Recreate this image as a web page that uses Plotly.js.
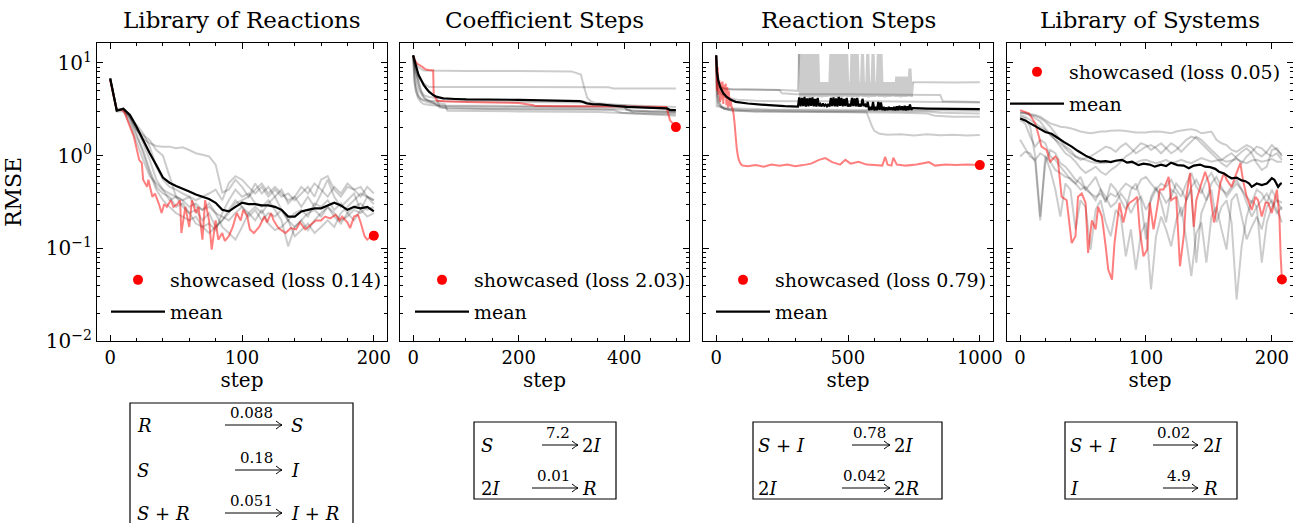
<!DOCTYPE html>
<html><head><meta charset="utf-8">
<script src="https://cdn.plot.ly/plotly-3.0.1.min.js"></script>
<style>html,body{margin:0;padding:0;background:#fff}#chart{width:1293px;height:523px}</style>
</head><body><div id="chart"></div><script>
// ---------------- DATA ----------------
const panelTitles = ['Library of Reactions', 'Coefficient Steps', 'Reaction Steps', 'Library of Systems'];
const yTickVals = [0.01, 0.1, 1, 10];
const yTickText = ['10<sup>\u22122</sup>', '10<sup>\u22121</sup>', '10<sup>0</sup>', '10<sup>1</sup>'];

// Panel 1: Library of Reactions
const p1Steps = [0,5,10,15,20,25,30,35,40,45,50,55,60,65,70,75,80,85,90,95,100,105,110,115,120,125,130,135,140,145,150,155,160,165,170,175,180,185,190,195,200];
const p1Run1 = [6.8,3.1,3.2,2.65,1.9,1.53,1.36,1.27,1.25,1.25,1.2,1.23,1.15,1.06,1.02,0.98,0.8,0.4,0.43,0.55,0.46,0.36,0.5,0.39,0.46,0.36,0.43,0.305,0.36,0.28,0.36,0.28,0.39,0.55,0.36,0.28,0.33,0.39,0.26,0.36,0.3];
const p1Run2 = [6.8,3.1,3.2,2.65,1.9,1.66,1.47,1.15,1.0,0.6,0.36,0.33,0.36,0.28,0.26,0.305,0.24,0.17,0.146,0.124,0.17,0.24,0.28,0.24,0.305,0.36,0.26,0.2,0.24,0.26,0.22,0.305,0.28,0.33,0.26,0.305,0.24,0.28,0.305,0.26,0.28];
const p1Run3 = [6.8,3.1,3.1,2.42,1.6,1.15,0.7,0.46,0.39,0.36,0.28,0.305,0.24,0.26,0.2,0.24,0.17,0.2,0.24,0.305,0.33,0.36,0.43,0.5,0.39,0.46,0.39,0.33,0.36,0.46,0.39,0.5,0.43,0.36,0.46,0.39,0.5,0.43,0.46,0.36,0.33];
const p1Run4 = [6.8,3.1,3.1,2.53,1.74,1.06,0.65,0.43,0.33,0.28,0.24,0.22,0.2,0.22,0.17,0.185,0.157,0.24,0.33,0.43,0.36,0.39,0.305,0.28,0.33,0.26,0.2,0.105,0.17,0.2,0.157,0.2,0.24,0.28,0.22,0.185,0.24,0.2,0.26,0.22,0.24];
const p1Run5 = [6.8,3.03,3.15,2.6,1.97,1.36,0.9,0.55,0.43,0.33,0.36,0.28,0.24,0.185,0.17,0.146,0.17,0.2,0.26,0.33,0.28,0.24,0.2,0.26,0.185,0.157,0.17,0.2,0.135,0.157,0.185,0.146,0.17,0.2,0.17,0.24,0.28,0.33,0.39,0.36,0.33];
const p1Run6 = [6.8,3.1,3.24,2.67,2.14,1.74,1.25,0.76,0.55,0.46,0.43,0.39,0.36,0.33,0.36,0.39,0.43,0.33,0.505,0.6,0.55,0.46,0.39,0.46,0.36,0.43,0.36,0.39,0.33,0.39,0.46,0.36,0.55,0.6,0.43,0.36,0.46,0.43,0.36,0.46,0.39];
const p1Run7 = [6.8,3.0,3.0,2.2,1.4,0.9,0.6,0.5,0.43,0.39,0.36,0.33,0.28,0.305,0.26,0.28,0.24,0.22,0.2,0.24,0.28,0.22,0.26,0.2,0.24,0.22,0.26,0.2,0.17,0.2,0.24,0.26,0.22,0.28,0.24,0.2,0.22,0.26,0.24,0.28,0.26];
const p1Mean = [6.8,3.05,3.2,2.75,2.05,1.47,1.06,0.79,0.58,0.51,0.47,0.44,0.41,0.38,0.36,0.34,0.31,0.26,0.25,0.28,0.31,0.3,0.3,0.29,0.29,0.28,0.26,0.22,0.22,0.25,0.26,0.27,0.27,0.29,0.31,0.29,0.26,0.28,0.27,0.28,0.25];
const p1RedSteps = [0,5,9,11,15,18,22,24,25,28,29,32,34,37,39,41,43,46,48,51,53,54,57,60,62,65,67,70,72,75,77,80,82,85,87,90,93,96,99,101,104,106,109,113,117,119,122,124,127,129,133,137,141,144,148,152,156,160,163,167,171,174,176,180,182,185,188,190,193,195,198,200];
const p1RedVals = [6.5,3.1,3.1,2.9,2.05,1.6,0.9,0.83,0.55,0.46,0.55,0.36,0.39,0.3,0.24,0.3,0.28,0.33,0.28,0.3,0.33,0.146,0.28,0.17,0.33,0.24,0.28,0.124,0.33,0.2,0.097,0.2,0.124,0.146,0.12,0.135,0.17,0.24,0.2,0.26,0.22,0.16,0.146,0.17,0.22,0.19,0.24,0.2,0.17,0.16,0.146,0.165,0.16,0.19,0.16,0.18,0.2,0.2,0.22,0.21,0.23,0.2,0.22,0.19,0.165,0.22,0.23,0.19,0.135,0.124,0.135,0.14];
const p1ShowStep = [200], p1ShowLoss = [0.137];

// Panel 2: Coefficient Steps
const p2Run1Steps = [0,5,10,15,20,100,200,300,318,324,330,336,345,400,450,498];
const p2Run1 = [12,10,9,8.6,8.3,8.2,8.2,8.1,7.5,5.5,4.2,3.9,3.7,3.5,3.3,3.1];
const p2Run2Steps = [0,5,10,20,30,100,370,380,498];
const p2Run2 = [12,9,7,6,5.5,5.5,5.45,5.3,5.3];
const p2Run3Steps = [0,4,8,12,20,30,40,45,60,200,400,410,498];
const p2Run3 = [12,8,6,5,4.2,3.9,3.7,3.5,3.4,3.35,3.3,3.05,3.0];
const p2Run4Steps = [0,3,6,10,15,25,40,55,65,200,380,395,420,498];
const p2Run4 = [12,7,5.5,4.5,4.0,3.8,3.6,3.3,3.2,3.15,3.1,2.9,2.85,2.8];
const p2Run5Steps = [0,3,6,9,14,20,35,60,150,300,400,405,450,498];
const p2Run5 = [12,6,4.8,4.2,3.8,3.6,3.5,3.45,3.45,3.4,3.4,3.1,3.0,2.95];
const p2Run6Steps = [0,4,8,12,18,25,40,60,65,200,350,420,470,498];
const p2Run6 = [12,9,7,5.5,4.5,4.0,3.7,3.6,3.05,3.0,2.95,2.85,2.75,2.7];
const p2Run7Steps = [0,2,5,10,15,20,30,50,200,330,340,400,460,498];
const p2Run7 = [12,6.5,5,4.3,4.1,4.0,3.9,3.85,3.8,3.75,3.55,3.5,3.4,3.35];
const p2Run8Steps = [0,5,10,15,20,30,45,50,150,300,410,415,470,498];
const p2Run8 = [12,8,6.5,5,4.5,4.3,4.2,3.3,3.2,3.2,3.15,2.95,2.9,2.9];
const p2RedSteps = [0,4,8,12,18,24,30,38,39,45,60,100,150,200,228,232,300,400,480,487,490,498];
const p2RedVals = [12,10.5,9.8,9.5,9.0,8.5,8.4,8.3,4.5,3.9,3.85,3.8,3.75,3.7,3.5,3.42,3.4,3.38,3.35,2.4,2.3,2.03];
const p2MeanSteps = [0,5,10,15,20,25,30,38,45,57,80,101,200,316,322,329,340,354,380,405,440,481,487,498];
const p2Mean = [12.1,9.5,7.5,6.6,5.8,5.3,4.9,4.5,4.3,4.14,4.08,4.04,4.0,3.87,3.8,3.66,3.6,3.57,3.45,3.36,3.3,3.23,3.1,3.1];
const p2ShowStep = [498], p2ShowLoss = [2.03];

// Panel 3: Reaction Steps
const p3Run1Steps = [0,3,8,15,30,60,240,250,300,500,700,850,860,1000];
const p3Run1 = [12,7,6,5.6,5.3,5.2,5.1,4.7,4.6,4.6,4.55,4.5,3.85,3.8];
const p3Run2Steps = [0,4,10,20,40,80,150,300,600,850,1000];
const p3Run2 = [12,6,5,4.6,4.2,4.0,3.9,3.85,3.85,3.8,3.75];
const p3Run3Steps = [0,3,8,15,30,60,150,300,500,570,580,590,600,620,650,700,750,800,850,900,950,1000];
const p3Run3 = [12,6,4.5,3.6,3.2,3.05,3.0,2.97,2.95,2.93,2.5,2.1,1.85,1.72,1.68,1.7,1.65,1.7,1.66,1.68,1.65,1.67];
const p3Run4Steps = [0,3,8,20,50,150,400,700,800,830,900,1000];
const p3Run4 = [12,5,3.8,3.3,3.1,3.0,2.95,2.9,2.85,2.7,2.62,2.63];
const p3Run5Steps = [0,3,8,30,100,400,800,850,1000];
const p3Run5 = [12,4.5,3.5,3.2,3.1,3.05,3.0,2.9,2.85];
const p3Run6Steps = [0,2,50,200,600,1000];
const p3Run6 = [12,3.4,3.25,3.15,3.1,3.05];
// run that keeps flipping between two reaction sets (steps 315-745)
const p3FlipPreSteps = [0,5,10,20,40,250,310,315];
const p3FlipPre = [12,7,6,5.4,5.2,5.1,5.0,12.5];
const p3FlipSteps = [315,320,325,330,335,340,345,350,355,360,365,370,375,380,385,390,395,400,405,410,415,420,425,430,435,440,445,450,455,460,465,470,475,480,485,490,495,500,505,510,515,520,525,530,535,540,545,550,555,560,565,570,575,580,585,590,595,600,605,610,615,620,625,630,635,640,645,650,655,660,665,670,675,680,685,690,695,700,705,710,715,720,725,730,735,740,745];
const p3FlipHigh = [12.5,12.5,12.5,12.5,12.5,12.5,12.5,12.5,6.2,6.2,6.2,6.2,12.5,12.5,12.5,12.5,12.5,12.5,12.5,6.2,12.5,12.5,12.5,6.2,12.5,6.2,12.5,6.2,12.5,6.2,12.5,12.5,6.2,6.2,6.2,6.2,6.2,7.1,7.1,7.1,7.1,7.1,8.7,6.2];
const p3FlipLow = [4.3,4.35,4.3,4.25,4.3,4.3,4.35,4.3,4.25,4.3,4.3,4.35,4.3,4.3,4.25,4.3,4.3,4.35,4.3,4.3,4.25,4.3,4.3,4.35,4.3,4.3,4.25,4.3,4.3,4.35,4.3,4.3,4.25,4.3,4.3,4.35,4.3,4.3,4.25,4.3,4.3,4.35,4.3];
const p3FlipPostSteps = [745,750,800,900,1000];
const p3FlipPost = [6.2,6.2,6.2,6.15,6.2];
const p3RedSteps = [0,3,6,9,12,15,18,21,24,27,30,33,36,39,42,45,48,51,54,58,62,66,70,74,78,82,86,90,95,100,120,150,180,210,240,270,300,330,360,390,414,440,470,490,510,540,570,600,630,641,650,665,672,685,720,760,807,830,870,910,950,1000];
const p3RedVals = [12,5,9,4.5,6.5,3.8,6.2,4.0,6.3,3.6,5.8,4.2,6.0,3.5,5.5,3.3,5.0,3.4,4.2,3.4,3.2,2.8,2.2,1.6,1.2,1.0,0.9,0.84,0.8,0.78,0.77,0.79,0.76,0.8,0.78,0.8,0.77,0.79,0.82,0.9,0.94,0.85,0.8,0.9,0.82,0.86,0.8,0.79,0.78,0.97,0.8,0.78,0.95,0.8,0.78,0.8,0.85,0.78,0.8,0.79,0.8,0.79];
const p3MeanPreSteps = [0,3,8,15,27,40,55,74,120,200,260,310];
const p3MeanPre = [12.1,8,6.5,5.5,4.7,4.3,4.0,3.8,3.65,3.5,3.42,3.38];
const p3MeanFlipHigh = [4.25,4.2,4.3,4.15,4.2,4.25,4.1,4.2,3.6,3.65,3.55,3.6,4.2,4.25,4.15,4.3,4.2,4.1,4.2,3.6,4.2,4.15,4.2,3.6,4.1,3.55,3.8,3.35,3.8,3.35,3.8,3.75,3.35,3.3,3.35,3.3,3.35,3.4,3.45,3.4,3.45,3.4,3.55,3.25];
const p3MeanFlipLow = [3.4,3.42,3.38,3.4,3.45,3.4,3.38,3.42,3.4,3.45,3.4,3.38,3.42,3.4,3.38,3.45,3.4,3.42,3.38,3.4,3.42,3.4,3.38,3.4,3.42,3.35,3.1,3.12,3.08,3.1,3.12,3.1,3.08,3.1,3.12,3.1,3.08,3.1,3.12,3.1,3.08,3.1,3.12];
const p3MeanPostSteps = [750,800,900,1000];
const p3MeanPost = [3.25,3.22,3.2,3.18];
const p3ShowStep = [1000], p3ShowLoss = [0.79];

// Panel 4: Library of Systems
const p4Steps = [0,4,8,12,16,20,24,28,32,36,40,44,48,52,56,60,64,68,72,76,80,84,88,92,96,100,104,108,112,116,120,124,128,132,136,140,144,148,152,156,160,164,168,172,176,180,184,188,192,196,200,204,208];
const p4Run1 = [2.86,2.86,2.81,2.74,2.63,2.42,2.23,2.14,2.05,2.02,1.97,1.9,1.82,1.78,1.74,1.78,1.82,1.82,1.85,1.87,1.87,1.84,1.81,1.78,1.78,1.78,1.81,1.82,1.81,1.78,1.74,1.82,1.87,1.9,1.93,1.87,1.74,1.78,1.82,1.48,1.36,1.3,1.15,1.1,1.2,1.3,1.22,1.06,0.98,1.1,1.3,1.15,1.02];
const p4Run2 = [2.74,2.63,2.42,2.23,2.05,1.9,1.68,1.48,1.36,1.2,1.06,0.98,0.94,0.9,0.86,0.84,0.83,0.84,0.86,0.885,0.9,0.86,0.83,0.84,0.885,0.9,0.86,0.83,0.86,0.9,0.83,0.86,0.9,0.86,0.83,0.885,0.94,0.9,0.86,0.885,0.9,0.86,0.885,0.92,0.86,0.83,0.885,0.9,0.86,0.885,0.92,0.86,0.86];
const p4Run3 = [2.98,2.91,2.74,2.53,2.33,1.97,1.68,1.48,1.25,1.06,0.98,0.86,0.73,0.65,0.7,0.76,0.67,0.62,0.7,0.76,0.86,0.98,1.06,1.2,1.36,1.3,1.15,1.25,1.36,1.2,1.06,1.15,1.3,1.48,1.6,1.54,1.36,1.2,1.06,0.94,0.83,0.76,0.86,0.98,1.1,1.2,1.06,0.83,0.7,0.76,1.15,1.2,0.98];
const p4Run4 = [0.98,1.1,1.06,0.86,0.2,0.98,0.86,0.7,0.65,0.59,0.57,0.5,0.43,0.46,0.39,0.33,0.43,0.36,0.28,0.31,0.39,0.33,0.24,0.31,0.36,0.26,0.33,0.43,0.39,0.31,0.36,0.5,0.43,0.33,0.46,0.55,0.43,0.33,0.5,0.59,0.46,0.36,0.43,0.5,0.43,0.31,0.22,0.28,0.33,0.39,0.31,0.24,0.28];
const p4Run5 = [1.48,1.2,0.98,0.9,1.06,0.98,0.7,0.43,0.22,0.5,0.43,0.16,0.33,0.28,0.097,0.26,0.33,0.19,0.135,0.26,0.22,0.082,0.16,0.059,0.145,0.19,0.036,0.135,0.22,0.16,0.105,0.2,0.28,0.125,0.05,0.145,0.19,0.07,0.22,0.28,0.16,0.097,0.33,0.39,0.22,0.125,0.17,0.22,0.16,0.28,0.33,0.26,0.19];
const p4Run6 = [2.42,2.23,1.6,1.25,1.48,1.36,0.98,0.9,0.76,0.65,0.55,0.5,0.59,0.43,0.5,0.59,0.43,0.31,0.5,0.43,0.33,0.26,0.43,0.5,0.33,0.125,0.36,0.46,0.31,0.19,0.43,0.39,0.22,0.33,0.43,0.07,0.24,0.33,0.43,0.19,0.28,0.33,0.19,0.028,0.105,0.22,0.33,0.28,0.07,0.19,0.28,0.33,0.26];
const p4Run7 = [2.63,2.53,2.05,0.98,0.22,0.83,1.15,1.06,0.83,0.76,0.65,0.55,0.5,0.43,0.39,0.36,0.39,0.33,0.39,0.36,0.43,0.5,0.46,0.43,0.55,0.59,0.5,0.43,0.5,0.46,0.55,0.43,0.36,0.5,0.65,0.46,0.39,0.55,0.65,0.5,0.43,0.39,0.46,0.55,0.43,0.36,0.31,0.43,0.39,0.31,0.43,0.33,0.31];
const p4Run8 = [2.91,2.86,2.74,2.68,2.53,2.33,2.05,1.74,1.48,1.25,1.15,0.98,0.9,0.94,0.98,1.06,1.15,1.25,1.2,1.1,1.25,1.36,1.2,1.06,1.15,1.25,1.3,1.2,1.06,1.2,1.36,1.25,1.1,1.25,1.42,1.6,1.48,1.3,1.15,1.02,0.9,0.98,1.06,0.94,0.83,0.98,1.1,1.25,1.2,1.06,0.98,1.06,0.9];
const p4RedSteps = [0,7,12,15,17,21,24,28,30,33,37,41,44,46,49,52,54,57,60,62,65,68,70,73,75,79,82,85,87,90,93,95,98,101,103,106,109,111,114,118,120,124,127,130,132,135,138,140,144,147,150,154,156,159,162,164,168,172,175,177,180,184,187,189,192,195,197,200,204,206,207,208];
const p4RedVals = [3.1,2.86,2.23,1.6,1.25,1.15,0.86,0.98,0.9,0.36,0.33,0.114,0.135,0.36,0.39,0.31,0.089,0.2,0.16,0.28,0.22,0.105,0.059,0.046,0.114,0.31,0.19,0.28,0.31,0.33,0.36,0.16,0.082,0.097,0.31,0.16,0.28,0.43,0.43,0.59,0.33,0.36,0.064,0.135,0.36,0.65,0.17,0.33,0.5,0.67,0.5,0.19,0.26,0.5,0.65,0.55,0.46,0.65,0.83,0.55,0.36,0.26,0.36,0.33,0.22,0.31,0.31,0.24,0.43,0.22,0.082,0.046];
const p4MeanSteps = [0,4,8,12,16,20,25,30,35,41,46,52,56,60,64,68,72,76,81,85,89,94,98,103,107,112,116,120,125,130,134,138,143,147,151,155,158,162,165,168,172,176,179,182,184,188,192,196,200,202,205,207,208];
const p4Mean = [2.52,2.4,2.23,2.08,1.93,1.8,1.72,1.55,1.4,1.25,1.12,1.0,0.94,0.885,0.86,0.87,0.85,0.88,0.9,0.84,0.86,0.79,0.82,0.8,0.76,0.8,0.77,0.84,0.79,0.78,0.73,0.78,0.8,0.76,0.75,0.72,0.67,0.64,0.6,0.57,0.58,0.54,0.53,0.5,0.46,0.5,0.48,0.5,0.57,0.55,0.46,0.5,0.5];
const p4ShowStep = [208], p4ShowLoss = [0.046];

const showcasedLabels = ['showcased (loss 0.14)', 'showcased (loss 2.03)', 'showcased (loss 0.79)', 'showcased (loss 0.05)'];

// Reaction boxes: [reactants, rate, products]
const reactions1 = [['<i>R</i>', '0.088', '<i>S</i>'], ['<i>S</i>', '0.18', '<i>I</i>'], ['<i>S</i> + <i>R</i>', '0.051', '<i>I</i> + <i>R</i>']];
const reactions2 = [['<i>S</i>', '7.2', '2<i>I</i>'], ['2<i>I</i>', '0.01', '<i>R</i>']];
const reactions3 = [['<i>S</i> + <i>I</i>', '0.78', '2<i>I</i>'], ['2<i>I</i>', '0.042', '2<i>R</i>']];
const reactions4 = [['<i>S</i> + <i>I</i>', '0.02', '2<i>I</i>'], ['<i>I</i>', '4.9', '<i>R</i>']];

// ---------------- BUILD ----------------
const W = 1293, H = 523;
const X = p => p / W, Y = p => 1 - p / H;
const FONT = 'DejaVu Serif, Liberation Serif, serif';
const GRAY = 'rgba(0,0,0,0.2)', RED = 'rgba(255,0,0,0.5)';

function interleave(hi, lo) { const out = []; for (let i = 0; i < hi.length; i++) { out.push(hi[i]); if (i < lo.length) out.push(lo[i]); } return out; }

const traces = [];
function gray(ax, xs, ys, w) { traces.push({x: xs, y: ys, type: 'scatter', mode: 'lines', line: {color: GRAY, width: w || 2, simplify: false}, xaxis: 'x' + ax, yaxis: 'y' + ax, showlegend: false, hoverinfo: 'skip'}); }
function red(ax, xs, ys) { traces.push({x: xs, y: ys, type: 'scatter', mode: 'lines', line: {color: RED, width: 2, simplify: false}, xaxis: 'x' + ax, yaxis: 'y' + ax, showlegend: false}); }
function mean(ax, xs, ys, leg) { traces.push({x: xs, y: ys, type: 'scatter', mode: 'lines', name: 'mean', line: {color: 'black', width: 2.2, simplify: false}, xaxis: 'x' + ax, yaxis: 'y' + ax, legend: leg, legendrank: 2, legendgroup: 'm' + leg}); }
function dot(ax, xs, ys, name, leg) { traces.push({x: xs, y: ys, type: 'scatter', mode: 'markers', name: name, marker: {color: 'red', size: 10}, xaxis: 'x' + ax, yaxis: 'y' + ax, legend: leg, legendrank: 1, legendgroup: 's' + leg}); }

// panel 1
[p1Run1, p1Run2, p1Run3, p1Run4, p1Run5, p1Run6, p1Run7].forEach(r => gray('', p1Steps, r));
red('', p1RedSteps, p1RedVals);
mean('', p1Steps, p1Mean, 'legend');
dot('', p1ShowStep, p1ShowLoss, showcasedLabels[0], 'legend');
// panel 2
[[p2Run1Steps, p2Run1], [p2Run2Steps, p2Run2], [p2Run3Steps, p2Run3], [p2Run4Steps, p2Run4], [p2Run5Steps, p2Run5], [p2Run6Steps, p2Run6], [p2Run7Steps, p2Run7], [p2Run8Steps, p2Run8]].forEach(r => gray('2', r[0], r[1]));
red('2', p2RedSteps, p2RedVals);
mean('2', p2MeanSteps, p2Mean, 'legend2');
dot('2', p2ShowStep, p2ShowLoss, showcasedLabels[1], 'legend2');
// panel 3
[[p3Run1Steps, p3Run1], [p3Run2Steps, p3Run2], [p3Run3Steps, p3Run3], [p3Run4Steps, p3Run4], [p3Run5Steps, p3Run5], [p3Run6Steps, p3Run6]].forEach(r => gray('3', r[0], r[1]));
gray('3', p3FlipPreSteps, p3FlipPre);
gray('3', p3FlipSteps, interleave(p3FlipHigh, p3FlipLow), 3.2);
gray('3', p3FlipPostSteps, p3FlipPost);
red('3', p3RedSteps, p3RedVals);
mean('3', p3MeanPreSteps.concat(p3FlipSteps, p3MeanPostSteps), p3MeanPre.concat(interleave(p3MeanFlipHigh, p3MeanFlipLow), p3MeanPost), 'legend3');
dot('3', p3ShowStep, p3ShowLoss, showcasedLabels[2], 'legend3');
// panel 4
[p4Run1, p4Run2, p4Run3, p4Run4, p4Run5, p4Run6, p4Run7, p4Run8].forEach(r => gray('4', p4Steps, r));
red('4', p4RedSteps, p4RedVals);
mean('4', p4MeanSteps, p4Mean, 'legend4');
dot('4', p4ShowStep, p4ShowLoss, showcasedLabels[3], 'legend4');

// axes
const xDom = [[97, 387], [400, 689], [703, 993], [1007, 1293]];
const xRanges = [[-10, 210], [-24.9, 522.9], [-50, 1050], [-10.4, 216.8]];
const xDticks = [100, 200, 500, 100];
const xMinor = [20, 50, 100, 20];
const yMinorVals = [];
for (let e = -2; e <= 1; e++) for (let m = 2; m <= 9; m++) yMinorVals.push(m * Math.pow(10, e));

const layout = {
  width: W, height: H, margin: {l: 0, r: 0, t: 0, b: 0},
  paper_bgcolor: 'white', plot_bgcolor: 'white',
  font: {family: FONT, color: 'black', size: 18},
  annotations: [], shapes: []
};
const yDom = [Y(341), Y(43)];
for (let i = 0; i < 4; i++) {
  const sfx = i === 0 ? '' : String(i + 1);
  layout['xaxis' + sfx] = {
    domain: [X(xDom[i][0]), X(xDom[i][1])], range: xRanges[i], anchor: 'y' + sfx,
    tick0: 0, dtick: xDticks[i], ticks: 'inside', ticklen: 6, tickcolor: 'black', tickwidth: 1,
    minor: {ticks: 'inside', dtick: xMinor[i], tick0: 0, ticklen: 3, tickcolor: 'black', showgrid: false},
    showline: true, linecolor: 'black', linewidth: 1.2, mirror: 'ticks', showgrid: false, zeroline: false,
    tickfont: {family: FONT, size: 18, color: 'black'},
    title: {text: 'step', font: {family: FONT, size: 20, color: 'black'}, standoff: 0}
  };
  const yax = {
    domain: yDom, type: 'log', range: [-2, 1.215], anchor: 'x' + sfx,
    tickmode: 'array', tickvals: yTickVals, ticktext: yTickText, showticklabels: i === 0,
    ticks: 'inside', ticklen: 6, tickcolor: 'black', tickwidth: 1,
    minor: {ticks: 'inside', tickmode: 'array', tickvals: yMinorVals, ticklen: 3, tickcolor: 'black', showgrid: false},
    showline: true, linecolor: 'black', linewidth: 1.2, mirror: 'ticks', showgrid: false, zeroline: false,
    tickfont: {family: FONT, size: 20, color: 'black'}
  };
  if (i === 0) yax.title = {text: 'RMSE', font: {family: FONT, size: 22, color: 'black'}, standoff: 18};
  layout['yaxis' + sfx] = yax;
  layout.annotations.push({text: panelTitles[i], xref: 'paper', yref: 'paper', x: X((xDom[i][0] + xDom[i][1]) / 2), y: Y(20), xanchor: 'center', yanchor: 'middle', showarrow: false, font: {family: FONT, size: 23, color: 'black'}});
}
const legPos = [[106, 261], [410, 261], [711, 261], [1005, 53]];
['legend', 'legend2', 'legend3', 'legend4'].forEach((k, i) => {
  layout[k] = {x: X(legPos[i][0]), y: Y(legPos[i][1]), xanchor: 'left', yanchor: 'top', bgcolor: 'rgba(0,0,0,0)', borderwidth: 0,
    font: {family: FONT, size: 19, color: 'black'}, itemwidth: 54, traceorder: 'grouped', tracegroupgap: 4};
});

// reaction boxes
function box(x0, y0, x1, y1) { layout.shapes.push({type: 'rect', xref: 'paper', yref: 'paper', x0: X(x0), y0: Y(y0), x1: X(x1), y1: Y(y1), line: {color: 'black', width: 1.2}, fillcolor: 'rgba(0,0,0,0)'}); }
function arrow(xs, xe, y) {
  layout.shapes.push({type: 'line', xref: 'paper', yref: 'paper', x0: X(xs), y0: Y(y), x1: X(xe), y1: Y(y), line: {color: 'black', width: 1}});
  layout.shapes.push({type: 'path', xref: 'paper', yref: 'paper', path: `M${X(xe - 6)},${Y(y - 4)} Q${X(xe - 2)},${Y(y - 0.8)} ${X(xe)},${Y(y)} Q${X(xe - 2)},${Y(y + 0.8)} ${X(xe - 6)},${Y(y + 4)}`, line: {color: 'black', width: 1}});
}
function txt(t, x, y, size, anchor) { layout.annotations.push({text: t, xref: 'paper', yref: 'paper', x: X(x), y: Y(y), xanchor: anchor || 'left', yanchor: 'middle', showarrow: false, font: {family: FONT, size: size, color: 'black'}}); }
function reactionBox(list, bx0, by0, bx1, by1, xr, rows, arrowStarts, arrowEnd, xp) {
  box(bx0, by0, bx1, by1);
  list.forEach((r, j) => {
    txt(r[0], xr, rows[j], 18);
    arrow(arrowStarts[j], arrowEnd, rows[j]);
    txt(r[1], (arrowStarts[j] + arrowEnd) / 2 - 2, rows[j] - 12, 15, 'center');
    txt(r[2], xp, rows[j], 18);
  });
}
reactionBox(reactions1, 130, 403, 353, 540, 135, [425, 470, 513], [225, 235, 225], 282, 289);
reactionBox(reactions2, 474, 422, 616, 499, 479, [445, 488], [542, 532], 578, 580);
reactionBox(reactions3, 753, 422, 942, 499, 756, [445, 488], [852, 842], 890, 892);
reactionBox(reactions4, 1065, 422, 1237, 499, 1068, [445, 488], [1153, 1163], 1198, 1201);

Plotly.newPlot('chart', traces, layout, {staticPlot: true});
</script></body></html>
